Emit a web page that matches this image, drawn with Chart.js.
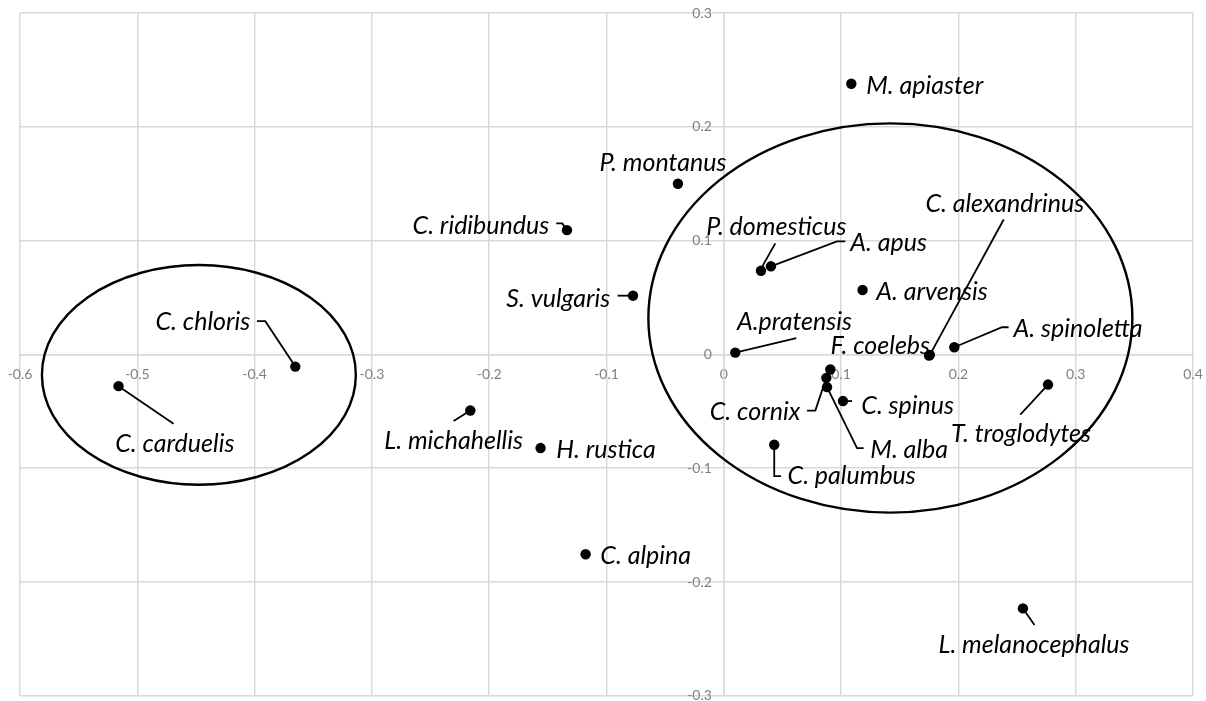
<!DOCTYPE html>
<html>
<head>
<meta charset="utf-8">
<script src="https://cdn.jsdelivr.net/npm/chart.js@4/dist/chart.umd.min.js"></script>
<style>
  html, body { margin: 0; padding: 0; background: #ffffff; }
  canvas { display: block; }
</style>
</head>
<body>
<canvas id="ordination" width="1206" height="701"></canvas>
<script>
// Species scores on the two ordination axes
const species = [
  'M. apiaster', 'P. montanus', 'C. ridibundus', 'S. vulgaris', 'P. domesticus',
  'A. apus', 'A. arvensis', 'A.pratensis', 'F. coelebs', 'C. alexandrinus',
  'A. spinoletta', 'T. troglodytes', '', 'C. cornix', 'M. alba',
  'C. spinus', 'C. palumbus', 'L. michahellis', 'H. rustica', 'C. alpina',
  'C. chloris', 'C. carduelis', 'L. melanocephalus'
];
const axis1 = [
  0.1087, -0.0391, -0.1337, -0.0774, 0.0317,
  0.0402, 0.1183, 0.0098, 0.1750, 0.1757,
  0.1965, 0.2764, 0.0908, 0.0874, 0.0880,
  0.1016, 0.0430, -0.2161, -0.1562, -0.1178,
  -0.3653, -0.5160, 0.2550
];
const axis2 = [
  0.2378, 0.1500, 0.1092, 0.0516, 0.0735,
  0.0774, 0.0566, 0.0016, -0.0011, -0.0004,
  0.0063, -0.0265, -0.0133, -0.0206, -0.0288,
  -0.0410, -0.0794, -0.0493, -0.0823, -0.1756,
  -0.0107, -0.0279, -0.2232
];

// Axis tick labels
const xTickLabels = ['-0.6', '-0.5', '-0.4', '-0.3', '-0.2', '-0.1', '0', '0.1', '0.2', '0.3', '0.4'];
const yTickLabels = ['-0.3', '-0.2', '-0.1', '0', '0.1', '0.2', '0.3'];

// Group ellipses (centre and semi-axes, in axis units)
const groupCx = [-0.4475, 0.1420];
const groupCy = [-0.0180, 0.0320];
const groupRx = [0.1338, 0.2063];
const groupRy = [0.0965, 0.1710];

// Label placement in pixels relative to each point; leader runs from the listed
// vertices to the point itself
const labelLayout = [
  { dx: 15, dy: 2, align: 'left', leader: [] },
  { dx: -15, dy: -21, align: 'center', leader: [] },
  { dx: -17.7, dy: -4, align: 'right', leader: [[-10.7, -6.7], [-4.7, -6.7]] },
  { dx: -22.7, dy: 3.3, align: 'right', leader: [[-15.4, 0]] },
  { dx: -54.7, dy: -43.7, align: 'left', leader: [[14.3, -27.4], [2.6, -6.7]] },
  { dx: 79.3, dy: -23, align: 'left', leader: [[74.3, -25], [66, -25]] },
  { dx: 13.7, dy: 2.3, align: 'left', leader: [] },
  { dx: 1.7, dy: -31, align: 'left', leader: [[61, -14.4]] },
  { dx: 1, dy: -9.4, align: 'right', leader: [] },
  { dx: -4.5, dy: -151, align: 'left', leader: [[73.8, -135.3]] },
  { dx: 59.3, dy: -18.3, align: 'left', leader: [[54.3, -20], [47.7, -20]] },
  { dx: -97, dy: 49.3, align: 'left', leader: [[-27.7, 30]] },
  null,
  { dx: -26, dy: 34.3, align: 'right', leader: [[-19.3, 32.7], [-11, 32.7]] },
  { dx: 43.3, dy: 62.4, align: 'left', leader: [[36.6, 61], [30, 61]] },
  { dx: 18.3, dy: 4.4, align: 'left', leader: [[9, 0]] },
  { dx: 13.3, dy: 31.3, align: 'left', leader: [[6.7, 31.3], [0, 31.3]] },
  { dx: -86, dy: 30, align: 'left', leader: [[-16.7, 10.6]] },
  { dx: 15.7, dy: 1.4, align: 'left', leader: [] },
  { dx: 14.7, dy: 1.3, align: 'left', leader: [] },
  { dx: -45, dy: -44.4, align: 'right', leader: [[-38.3, -45.4], [-30, -45.4]] },
  { dx: -3.3, dy: 57.7, align: 'left', leader: [[55, 37.7]] },
  { dx: -84.4, dy: 36.7, align: 'left', leader: [[11.6, 16.7]] }
];

const points = axis1.map((x, i) => ({ x: x, y: axis2[i] }));

const GRID = '#d9d9d9';
const INK = '#000000';

// Axes sit inside the plot, so their labels should not shrink it
function noEdgePadding(scale) {
  scale.paddingLeft = 0;
  scale.paddingRight = 0;
  scale.paddingTop = 0;
  scale.paddingBottom = 0;
}

// Shift the vertical axis labels off the axis line
const yLabelGap = {
  id: 'yLabelGap',
  beforeDraw(chart) {
    const items = chart.scales.y.getLabelItems();
    if (!items._shifted) {
      items.forEach(it => { it.options.translation[0] -= 12; });
      items._shifted = true;
    }
  }
};

// Ellipses and leader lines beneath the points
const underlay = {
  id: 'underlay',
  beforeDatasetsDraw(chart) {
    const { ctx, scales: { x, y } } = chart;
    ctx.save();
    ctx.strokeStyle = INK;
    ctx.lineWidth = 2.4;
    groupCx.forEach((cx, i) => {
      const px = x.getPixelForValue(cx);
      const py = y.getPixelForValue(groupCy[i]);
      const rx = Math.abs(x.getPixelForValue(cx + groupRx[i]) - px);
      const ry = Math.abs(y.getPixelForValue(groupCy[i] + groupRy[i]) - py);
      ctx.beginPath();
      ctx.ellipse(px, py, rx, ry, 0, 0, Math.PI * 2);
      ctx.stroke();
    });
    ctx.lineWidth = 1.8;
    ctx.lineJoin = 'miter';
    points.forEach((p, i) => {
      const lay = labelLayout[i];
      if (!lay || !lay.leader.length) return;
      const px = x.getPixelForValue(p.x);
      const py = y.getPixelForValue(p.y);
      ctx.beginPath();
      lay.leader.forEach((v, k) => {
        if (k === 0) ctx.moveTo(px + v[0], py + v[1]);
        else ctx.lineTo(px + v[0], py + v[1]);
      });
      ctx.lineTo(px, py);
      ctx.stroke();
    });
    ctx.restore();
  }
};

// Species names in italics
const speciesLabels = {
  id: 'speciesLabels',
  afterDatasetsDraw(chart) {
    const { ctx, scales: { x, y } } = chart;
    ctx.save();
    ctx.font = 'italic 25px Lato';
    ctx.fillStyle = '#000000';
    ctx.textBaseline = 'middle';
    points.forEach((p, i) => {
      const lay = labelLayout[i];
      if (!lay || !species[i]) return;
      ctx.textAlign = lay.align;
      ctx.fillText(species[i], x.getPixelForValue(p.x) + lay.dx, y.getPixelForValue(p.y) + lay.dy);
    });
    ctx.restore();
  }
};

new Chart(document.getElementById('ordination'), {
  type: 'scatter',
  data: {
    datasets: [{
      data: points,
      pointRadius: 5.2,
      pointBackgroundColor: INK,
      pointBorderWidth: 0,
      pointHoverRadius: 5.2
    }]
  },
  options: {
    responsive: false,
    animation: false,
    events: [],
    layout: { padding: { left: 20, right: 13, top: 13, bottom: 3 } },
    plugins: { legend: { display: false }, tooltip: { enabled: false } },
    scales: {
      x: {
        type: 'linear',
        position: { y: 0 },
        min: -0.6, max: 0.4,
        afterFit: noEdgePadding,
        ticks: {
          stepSize: 0.1,
          padding: 12,
          color: '#7f7f7f',
          font: { family: 'Lato', size: 14 },
          maxRotation: 0,
          autoSkip: false,
          callback: (v, i) => xTickLabels[i]
        },
        grid: { color: GRID, lineWidth: 1.5, drawTicks: false },
        border: { color: GRID, width: 1.5 }
      },
      y: {
        type: 'linear',
        position: { x: 0 },
        min: -0.3, max: 0.3,
        afterFit: noEdgePadding,
        ticks: {
          stepSize: 0.1,
          color: '#7f7f7f',
          font: { family: 'Lato', size: 14 },
          autoSkip: false,
          callback: (v, i) => yTickLabels[i]
        },
        grid: { color: GRID, lineWidth: 1.5, drawTicks: false },
        border: { color: GRID, width: 1.5 }
      }
    }
  },
  plugins: [yLabelGap, underlay, speciesLabels]
});
</script>
</body>
</html>
